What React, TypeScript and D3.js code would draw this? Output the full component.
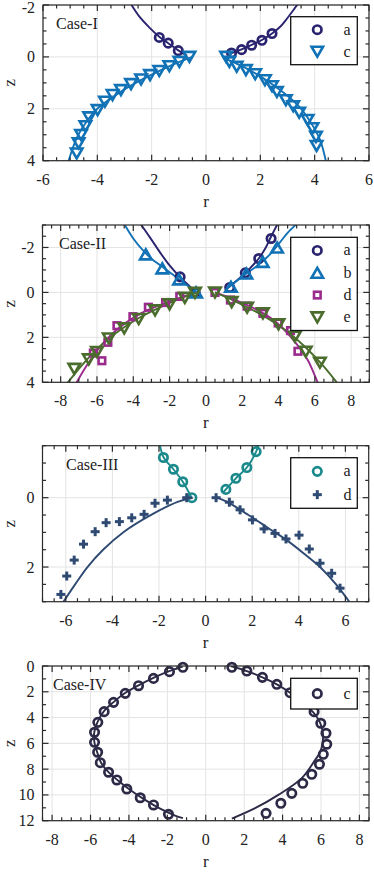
import React from "react";
import * as d3 from "d3";

type Pt = [number, number];

// ---------------- Case I ----------------
const c1_xTicks = [-6, -4, -2, 0, 2, 4, 6];
const c1_yTicks = [-2, 0, 2, 4];
const c1_a_pts: Pt[] = [
  [-1.72, -0.75], [-1.39, -0.53], [-1.02, -0.24],
  [0.94, -0.15], [1.31, -0.28], [1.68, -0.45], [2.06, -0.64], [2.43, -0.9],
];
const c1_a_lineL: Pt[] = [
  [-0.7, -0.05], [-1.02, -0.25], [-1.39, -0.53], [-1.72, -0.78], [-2.1, -1.15], [-2.45, -1.55], [-2.8, -2.1],
];
const c1_a_lineR: Pt[] = [
  [0.88, -0.12], [1.31, -0.29], [1.68, -0.46], [2.06, -0.65], [2.43, -0.9], [2.75, -1.18], [3.0, -1.5], [3.2, -1.78], [3.42, -2.1],
];
const c1_c_pts: Pt[] = [
  [-0.61, 0], [-0.98, 0.19], [-1.35, 0.36], [-1.72, 0.54], [-2.06, 0.7], [-2.39, 0.87], [-2.76, 1.05],
  [-3.13, 1.28], [-3.44, 1.47], [-3.72, 1.73], [-3.99, 2.05], [-4.3, 2.33], [-4.44, 2.67], [-4.6, 3.01],
  [-4.69, 3.33], [-4.76, 3.72],
  [0.74, 0], [0.86, 0.19], [1.13, 0.38], [1.47, 0.51], [1.81, 0.67], [2.17, 0.9], [2.43, 1.13],
  [2.61, 1.35], [2.94, 1.67], [3.21, 1.9], [3.43, 2.15], [3.74, 2.43], [3.92, 2.75], [4.05, 3.08], [4.07, 3.43],
];
const c1_c_lineL: Pt[] = [
  [-0.5, 0], [-1, 0.2], [-1.5, 0.43], [-2, 0.68], [-2.5, 0.95], [-3, 1.25], [-3.5, 1.6], [-4, 2.0],
  [-4.4, 2.5], [-4.7, 3.0], [-4.9, 3.5], [-5.07, 4.05],
];
const c1_c_lineR: Pt[] = [
  [0.6, 0], [1, 0.2], [1.5, 0.45], [2, 0.75], [2.5, 1.1], [3, 1.5], [3.5, 2.0], [3.9, 2.6], [4.2, 3.2], [4.42, 4.05],
];

// ---------------- Case II ----------------
const c2_xTicks = [-8, -6, -4, -2, 0, 2, 4, 6, 8];
const c2_yTicks = [-2, 0, 2, 4];
const c2_a_pts: Pt[] = [
  [-1.42, -0.69], [-0.59, 0], [1.31, -0.22], [2.17, -0.87], [2.91, -1.51], [3.59, -2.4],
];
const c2_a_lineL: Pt[] = [
  [-0.55, 0], [-1.0, -0.35], [-1.45, -0.7], [-2.0, -1.2], [-2.5, -1.75], [-3.0, -2.35], [-3.6, -3.05],
];
const c2_a_lineR: Pt[] = [
  [1.2, -0.2], [1.8, -0.6], [2.4, -1.05], [2.9, -1.5], [3.3, -2.0], [3.6, -2.5], [3.95, -3.05],
];
const c2_b_pts: Pt[] = [
  [-3.31, -1.69], [-2.4, -1.07], [-1.48, -0.58], [-0.54, 0],
  [1.38, -0.25], [2.23, -0.84], [3.13, -1.36], [3.92, -2.0],
];
const c2_b_lineL: Pt[] = [
  [-0.5, 0], [-1, -0.3], [-1.5, -0.6], [-2, -0.9], [-2.5, -1.2], [-3, -1.5], [-3.5, -1.9], [-4, -2.4], [-4.5, -3.05],
];
const c2_b_lineR: Pt[] = [
  [1.2, -0.2], [2, -0.7], [3, -1.3], [3.6, -1.75], [4.1, -2.25], [4.5, -2.65], [5.0, -3.05],
];
const c2_d_pts: Pt[] = [
  [-1.44, 0.18], [-2.22, 0.45], [-3.17, 0.66], [-4.02, 1.08], [-4.9, 1.48], [-5.4, 2.22], [-6.2, 2.7], [-5.73, 3.04],
  [0.5, 0], [1.35, 0.34], [2.27, 0.61], [3.14, 0.93], [3.98, 1.36], [4.66, 1.7], [5.07, 2.62],
];
const c2_d_lineL: Pt[] = [
  [-0.5, 0], [-1.5, 0.25], [-2.5, 0.55], [-3.5, 0.9], [-4.5, 1.4], [-5.3, 1.95], [-6.0, 2.6], [-6.6, 3.3], [-7.15, 4.05],
];
const c2_d_lineR: Pt[] = [
  [0.5, 0], [1.5, 0.3], [2.5, 0.65], [3.5, 1.1], [4.3, 1.65], [5.0, 2.3], [5.6, 3.0], [6.0, 3.7], [6.18, 4.05],
];
const c2_e_pts: Pt[] = [
  [-0.6, 0.02], [-1.16, 0.24], [-2.0, 0.53], [-2.8, 0.8], [-3.7, 1.18], [-4.5, 1.6], [-5.35, 2.05],
  [-6.0, 2.65], [-6.45, 2.98], [-7.25, 3.4],
  [0.5, 0], [1.42, 0.43], [2.27, 0.68], [3.14, 0.93], [4.0, 1.42], [4.9, 1.97], [5.5, 2.64], [6.28, 3.13],
];
const c2_e_lineL: Pt[] = [
  [-0.5, 0], [-1.5, 0.3], [-2.5, 0.65], [-3.5, 1.05], [-4.5, 1.55], [-5.5, 2.15], [-6.5, 2.95], [-7.2, 3.6], [-7.65, 4.05],
];
const c2_e_lineR: Pt[] = [
  [0.5, 0], [1.5, 0.35], [2.5, 0.75], [3.5, 1.2], [4.5, 1.75], [5.5, 2.45], [6.5, 3.3], [7.25, 4.05],
];

// ---------------- Case III ----------------
const c3_xTicks = [-6, -4, -2, 0, 2, 4, 6];
const c3_yTicks = [0, 2];
const c3_a_pts: Pt[] = [
  [-1.81, -1.16], [-1.38, -0.82], [-0.98, -0.46], [-0.59, 0],
  [0.87, -0.24], [1.3, -0.56], [1.77, -0.87], [2.17, -1.33],
];
const c3_a_lineL: Pt[] = [
  [-0.6, 0], [-0.98, -0.46], [-1.38, -0.82], [-1.8, -1.16], [-1.97, -1.55],
];
const c3_a_lineR: Pt[] = [
  [0.75, -0.15], [1.3, -0.56], [1.77, -0.87], [2.17, -1.33], [2.28, -1.55],
];
const c3_d_pts: Pt[] = [
  [-6.21, 2.79], [-5.96, 2.26], [-5.64, 1.8], [-5.24, 1.34], [-4.74, 0.98], [-4.27, 0.72], [-3.7, 0.69],
  [-3.17, 0.58], [-2.64, 0.48], [-2.17, 0.16], [-1.64, 0.07], [-0.81, 0],
  [0.45, 0], [1.02, 0.13], [1.48, 0.35], [2.01, 0.64], [2.51, 0.9], [2.98, 1.03], [3.45, 1.19],
  [4.01, 1.08], [4.45, 1.48], [4.91, 1.89], [5.41, 2.18], [5.77, 2.61],
];
const c3_d_lineL: Pt[] = [
  [-0.55, 0], [-1.2, 0.12], [-2.3, 0.48], [-3.5, 0.98], [-4.4, 1.5], [-5.07, 2.0], [-5.6, 2.5], [-6.15, 3.05],
];
const c3_d_lineR: Pt[] = [
  [0.5, 0], [1.0, 0.15], [1.84, 0.5], [2.7, 0.88], [3.45, 1.21], [4.2, 1.6], [4.91, 2.0], [5.6, 2.5], [6.22, 3.05],
];

// ---------------- Case IV ----------------
const c4_xTicks = [-8, -6, -4, -2, 0, 2, 4, 6, 8];
const c4_yTicks = [0, 2, 4, 6, 8, 10, 12];
const c4_c_pts: Pt[] = [
  [-1.19, 0.1], [-1.89, 0.44], [-2.72, 0.96], [-3.5, 1.53], [-4.19, 2.12], [-4.8, 2.82], [-5.29, 3.54],
  [-5.62, 4.37], [-5.79, 5.14], [-5.79, 5.92], [-5.63, 6.69], [-5.49, 7.5], [-5.06, 8.24], [-4.63, 8.84],
  [-4.11, 9.54], [-3.41, 10.22], [-2.72, 10.78], [-1.94, 11.5],
  [1.36, 0.1], [2.14, 0.39], [2.95, 0.88], [3.7, 1.42], [4.39, 2.07], [5.05, 2.89], [5.64, 3.54],
  [5.99, 4.44], [6.26, 5.22], [6.3, 6.07], [6.12, 6.85], [5.92, 7.62], [5.52, 8.4], [5.05, 9.1],
  [4.48, 9.88], [3.91, 10.65], [3.14, 11.43],
];
const c4_c_lineL: Pt[] = [
  [-1.2, 0.05], [-1.9, 0.4], [-2.7, 0.9], [-3.5, 1.5], [-4.2, 2.1], [-4.8, 2.8], [-5.3, 3.5], [-5.62, 4.3],
  [-5.8, 5.1], [-5.8, 5.9], [-5.65, 6.7], [-5.45, 7.5], [-5.05, 8.25], [-4.55, 8.9], [-3.95, 9.6],
  [-3.2, 10.35], [-2.4, 11.05], [-1.6, 11.6], [-1.19, 11.8],
];
const c4_c_lineR: Pt[] = [
  [1.3, 0.0], [2.14, 0.39], [2.95, 0.88], [3.7, 1.42], [4.39, 2.07], [5.05, 2.89], [5.6, 3.6], [5.95, 4.4],
  [6.1, 5.2], [6.08, 6.0], [5.95, 6.7], [5.69, 7.3], [5.0, 8.7], [3.78, 10.0], [2.57, 11.03], [1.36, 11.84],
];

// ---------------- styling ----------------
const FONT = "'Liberation Serif', 'Times New Roman', serif";
const NAVY = "#2a2470";
const BLUE = "#1272b6";
const MAGENTA = "#9a2a8c";
const GREEN = "#4a6c2c";
const TEAL = "#1b8a8c";
const SLATE = "#2f4a72";
const DARK = "#2c2a46";

type Marker = "circle" | "triDown" | "triUp" | "square" | "plus";

interface Series {
  label: string;
  color: string;
  marker: Marker;
  pts: Pt[];
  lines: Pt[][];
}

interface PanelCfg {
  top: number;
  bottom: number;
  left: number;
  right: number;
  xDomain: [number, number];
  yDomain: [number, number];
  xTicks: number[];
  yTicks: number[];
  xMinor: number;
  yMinor: number;
  title: string;
  titleX: number;
  series: Series[];
  legend: { top: number; rowH: number };
}

const panels: PanelCfg[] = [
  {
    top: 5, bottom: 160.7, left: 43, right: 369,
    xDomain: [-6, 6], yDomain: [-2, 4], xTicks: c1_xTicks, yTicks: c1_yTicks, xMinor: 0.5, yMinor: 0.5,
    title: "Case-I", titleX: 56,
    series: [
      { label: "a", color: NAVY, marker: "circle", pts: c1_a_pts, lines: [c1_a_lineL, c1_a_lineR] },
      { label: "c", color: BLUE, marker: "triDown", pts: c1_c_pts, lines: [c1_c_lineL, c1_c_lineR] },
    ],
    legend: { top: 16.7, rowH: 22 },
  },
  {
    top: 225, bottom: 382.3, left: 42.5, right: 369.3,
    xDomain: [-9, 9], yDomain: [-3, 4], xTicks: c2_xTicks, yTicks: c2_yTicks, xMinor: 0.5, yMinor: 0.5,
    title: "Case-II", titleX: 59,
    series: [
      { label: "a", color: NAVY, marker: "circle", pts: c2_a_pts, lines: [c2_a_lineL, c2_a_lineR] },
      { label: "b", color: BLUE, marker: "triUp", pts: c2_b_pts, lines: [c2_b_lineL, c2_b_lineR] },
      { label: "d", color: MAGENTA, marker: "square", pts: c2_d_pts, lines: [c2_d_lineL, c2_d_lineR] },
      { label: "e", color: GREEN, marker: "triDown", pts: c2_e_pts, lines: [c2_e_lineL, c2_e_lineR] },
    ],
    legend: { top: 237.3, rowH: 22.3 },
  },
  {
    top: 445.7, bottom: 601.7, left: 42.5, right: 368.7,
    xDomain: [-7, 7], yDomain: [-1.5, 3], xTicks: c3_xTicks, yTicks: c3_yTicks, xMinor: 0.5, yMinor: 0.5,
    title: "Case-III", titleX: 66,
    series: [
      { label: "a", color: TEAL, marker: "circle", pts: c3_a_pts, lines: [c3_a_lineL, c3_a_lineR] },
      { label: "d", color: SLATE, marker: "plus", pts: c3_d_pts, lines: [c3_d_lineL, c3_d_lineR] },
    ],
    legend: { top: 457.7, rowH: 23.3 },
  },
  {
    top: 666, bottom: 820.7, left: 42.5, right: 369,
    xDomain: [-8.5, 8.5], yDomain: [0, 12], xTicks: c4_xTicks, yTicks: c4_yTicks, xMinor: 0.5, yMinor: 1,
    title: "Case-IV", titleX: 53,
    series: [
      { label: "c", color: DARK, marker: "circle", pts: c4_c_pts, lines: [c4_c_lineL, c4_c_lineR] },
    ],
    legend: { top: 678.3, rowH: 26.7 },
  },
];

function MarkerShape({ kind, x, y, color }: { kind: Marker; x: number; y: number; color: string }) {
  if (kind === "circle") {
    return <circle cx={x} cy={y} r={4.2} fill="none" stroke={color} strokeWidth={2.7} />;
  }
  if (kind === "square") {
    return <rect x={x - 3.3} y={y - 3.3} width={6.6} height={6.6} fill="none" stroke={color} strokeWidth={2.6} />;
  }
  if (kind === "plus") {
    return (
      <g stroke={color} strokeWidth={3}>
        <line x1={x - 4.5} x2={x + 4.5} y1={y} y2={y} />
        <line x1={x} x2={x} y1={y - 4.5} y2={y + 4.5} />
      </g>
    );
  }
  const s = 11.5;
  const h = s * 0.866;
  const d =
    kind === "triDown"
      ? `M${x - s / 2},${y - h / 2}L${x + s / 2},${y - h / 2}L${x},${y + h / 2}Z`
      : `M${x - s / 2},${y + h / 2}L${x + s / 2},${y + h / 2}L${x},${y - h / 2}Z`;
  return <path d={d} fill="none" stroke={color} strokeWidth={2.6} strokeLinejoin="miter" />;
}

function Panel({ cfg, idx }: { cfg: PanelCfg; idx: number }) {
  const x = d3.scaleLinear().domain(cfg.xDomain).range([cfg.left, cfg.right]);
  const y = d3.scaleLinear().domain(cfg.yDomain).range([cfg.top, cfg.bottom]);
  const line = d3
    .line<Pt>()
    .x((d) => x(d[0]))
    .y((d) => y(d[1]))
    .curve(d3.curveCatmullRom.alpha(0.5));
  const eps = 1e-9;
  const xMinor = d3.range(Math.ceil(cfg.xDomain[0] / cfg.xMinor) * cfg.xMinor, cfg.xDomain[1] + eps, cfg.xMinor);
  const yMinor = d3.range(Math.ceil(cfg.yDomain[0] / cfg.yMinor) * cfg.yMinor, cfg.yDomain[1] + eps, cfg.yMinor);
  const isMajorX = (v: number) => cfg.xTicks.some((t) => Math.abs(t - v) < 1e-6);
  const isMajorY = (v: number) => cfg.yTicks.some((t) => Math.abs(t - v) < 1e-6);
  const clipId = `clip${idx}`;
  const axisColor = "#2a2a2a";
  const MAJ = 6;
  const MIN = 3.5;
  const legLeft = 290.7;
  const legRight = 357.3;
  const legH = cfg.series.length * cfg.legend.rowH + 4;
  const midY = (cfg.top + cfg.bottom) / 2;
  return (
    <g>
      <defs>
        <clipPath id={clipId}>
          <rect x={cfg.left} y={cfg.top} width={cfg.right - cfg.left} height={cfg.bottom - cfg.top} />
        </clipPath>
      </defs>
      <rect x={cfg.left} y={cfg.top} width={cfg.right - cfg.left} height={cfg.bottom - cfg.top} fill="#fff" />
      {/* grid */}
      <g stroke="#e3e3e3" strokeWidth={1}>
        {cfg.xTicks.map((t) => (
          <line key={"gx" + t} x1={x(t)} x2={x(t)} y1={cfg.top} y2={cfg.bottom} />
        ))}
        {cfg.yTicks.map((t) => (
          <line key={"gy" + t} x1={cfg.left} x2={cfg.right} y1={y(t)} y2={y(t)} />
        ))}
      </g>
      {/* curves */}
      <g clipPath={`url(#${clipId})`} fill="none">
        {cfg.series.map((s) =>
          s.lines.map((l, i) => (
            <path key={s.label + i} d={line(l) || ""} stroke={s.color} strokeWidth={1.9} />
          ))
        )}
      </g>
      {/* markers */}
      {cfg.series.map((s) =>
        s.pts.map((p, i) => <MarkerShape key={s.label + "m" + i} kind={s.marker} x={x(p[0])} y={y(p[1])} color={s.color} />)
      )}
      {/* frame & ticks */}
      <g stroke={axisColor} strokeWidth={1.2}>
        {xMinor.map((v) => {
          const len = isMajorX(v) ? MAJ : MIN;
          return (
            <g key={"tx" + v}>
              <line x1={x(v)} x2={x(v)} y1={cfg.bottom} y2={cfg.bottom - len} />
              <line x1={x(v)} x2={x(v)} y1={cfg.top} y2={cfg.top + len} />
            </g>
          );
        })}
        {yMinor.map((v) => {
          const len = isMajorY(v) ? MAJ : MIN;
          return (
            <g key={"ty" + v}>
              <line x1={cfg.left} x2={cfg.left + len} y1={y(v)} y2={y(v)} />
              <line x1={cfg.right} x2={cfg.right - len} y1={y(v)} y2={y(v)} />
            </g>
          );
        })}
        <rect x={cfg.left} y={cfg.top} width={cfg.right - cfg.left} height={cfg.bottom - cfg.top} fill="none" />
      </g>
      {/* tick labels */}
      <g fontFamily={FONT} fontSize={16} fill="#222">
        {cfg.xTicks.map((t) => (
          <text key={"lx" + t} x={x(t)} y={cfg.bottom + 24} textAnchor="middle">
            {t < 0 ? "-" + Math.abs(t) : String(t)}
          </text>
        ))}
        {cfg.yTicks.map((t) => (
          <text key={"ly" + t} x={cfg.left - 8} y={Math.max(y(t) + 5.5, 12.5)} textAnchor="end">
            {t < 0 ? "-" + Math.abs(t) : String(t)}
          </text>
        ))}
      </g>
      {/* axis labels */}
      <text x={(cfg.left + cfg.right) / 2} y={cfg.bottom + 46} fontFamily={FONT} fontSize={17} textAnchor="middle" fill="#222">
        r
      </text>
      <text
        x={0}
        y={0}
        transform={`translate(15,${midY}) rotate(-90)`}
        fontFamily={FONT}
        fontSize={17}
        textAnchor="middle"
        fill="#222"
      >
        z
      </text>
      {/* case label */}
      <text x={cfg.titleX} y={cfg.top + 24} fontFamily={FONT} fontSize={16} fill="#222">
        {cfg.title}
      </text>
      {/* legend */}
      <g>
        <rect x={legLeft} y={cfg.legend.top} width={legRight - legLeft} height={legH} fill="#fff" stroke="#111" strokeWidth={1.3} />
        {cfg.series.map((s, i) => {
          const cy = cfg.legend.top + 2 + cfg.legend.rowH * (i + 0.5);
          return (
            <g key={"lg" + s.label}>
              <MarkerShape kind={s.marker} x={317.3} y={cy} color={s.color} />
              <text x={343.5} y={cy + 5} fontFamily={FONT} fontSize={16} fill="#222">
                {s.label}
              </text>
            </g>
          );
        })}
      </g>
    </g>
  );
}

export default function App() {
  return (
    <svg
      width={374}
      height={872}
      viewBox="0 0 374 872"
      style={{ position: "absolute", left: 0, top: 0, background: "#fff" }}
    >
      <rect x={0} y={0} width={374} height={872} fill="#fff" />
      {panels.map((p, i) => (
        <Panel key={i} cfg={p} idx={i} />
      ))}
    </svg>
  );
}
